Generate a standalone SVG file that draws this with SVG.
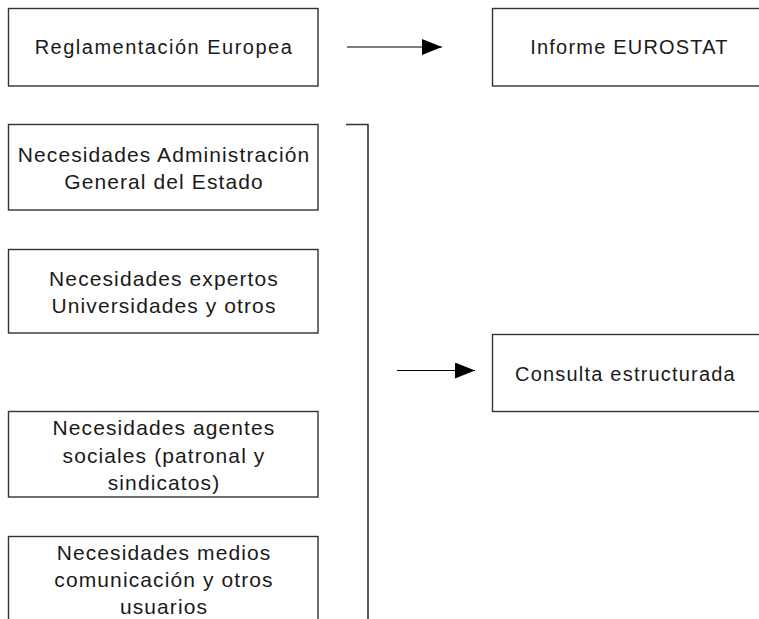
<svg xmlns="http://www.w3.org/2000/svg" width="759" height="619" viewBox="0 0 759 619">
<style>
.box{fill:#fff;stroke:#333;stroke-width:1.4}
.t{font-family:"Liberation Sans",Arial,sans-serif;font-size:21px;letter-spacing:1.1px;fill:#1a1a1a;text-anchor:middle}
.s{font-size:20px;letter-spacing:1.5px}
.m{font-size:20px;letter-spacing:1.2px}
.c{stroke:#000;stroke-width:1.2;fill:none}
.br{stroke:#333;stroke-width:1.6;fill:none}
</style>
<defs>
<marker id="ah" viewBox="0 0 20 16" refX="20" refY="8" markerWidth="20" markerHeight="16" markerUnits="userSpaceOnUse" orient="auto">
<path d="M0,0 L20,8 L0,16 Z" fill="#000"/>
</marker>
</defs>
<rect width="759" height="619" fill="#fff"/>
<g id="reglamentacion"><rect class="box" x="8.5" y="8.5" width="309.5" height="77.5"/><text class="t s" x="164" y="54">Reglamentación Europea</text></g>
<g id="eurostat"><rect class="box" x="492.5" y="8.5" width="300" height="77.5"/><text class="t m" x="629.5" y="54">Informe EUROSTAT</text></g>
<g id="admin"><rect class="box" x="8.5" y="124.5" width="309.5" height="85.5"/><text class="t" x="164" y="161.5">Necesidades Administración</text><text class="t" x="164" y="189">General del Estado</text></g>
<g id="expertos"><rect class="box" x="8.5" y="249.5" width="309.5" height="83.5"/><text class="t" x="164" y="286">Necesidades expertos</text><text class="t" x="164" y="312.5">Universidades y otros</text></g>
<g id="agentes"><rect class="box" x="8.5" y="411.5" width="309.5" height="85.5"/><text class="t" x="164" y="435">Necesidades agentes</text><text class="t" x="164" y="462.5">sociales (patronal y</text><text class="t" x="164" y="490">sindicatos)</text></g>
<g id="medios"><rect class="box" x="8.5" y="536.5" width="309.5" height="100"/><text class="t" x="164" y="559.5">Necesidades medios</text><text class="t" x="164" y="586.5">comunicación y otros</text><text class="t" x="164" y="613.5">usuarios</text></g>
<g id="consulta"><rect class="box" x="492.5" y="334.5" width="300" height="77"/><text class="t m" x="625.5" y="381">Consulta estructurada</text></g>
<g id="connectors">
<path class="br" d="M346,124.5 H368 V619"/>
<line class="c" x1="347" y1="47" x2="442" y2="47" marker-end="url(#ah)"/>
<line class="c" x1="397" y1="370.5" x2="475" y2="370.5" marker-end="url(#ah)"/>
</g>
</svg>
